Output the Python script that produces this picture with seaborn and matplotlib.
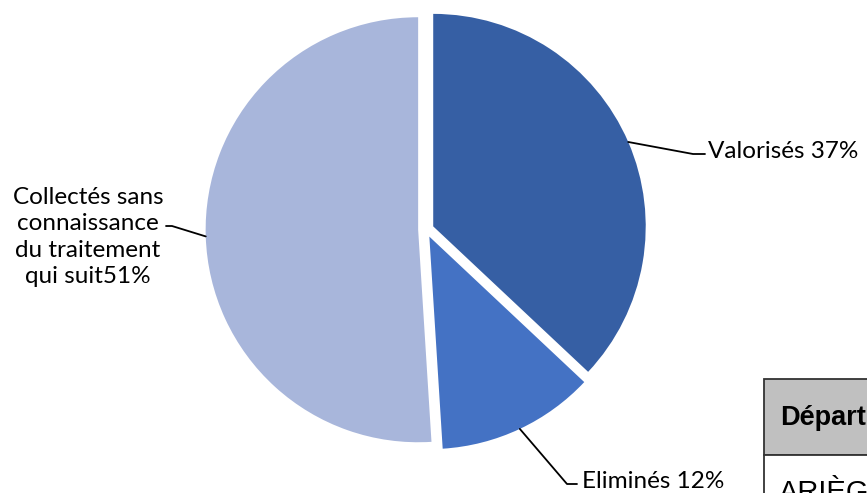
import matplotlib
matplotlib.use("Agg")
import matplotlib.pyplot as plt
import seaborn as sns
import numpy as np
from matplotlib.patches import Rectangle

sns.set_theme(style="white")
plt.rcParams['font.family'] = ['Lato', 'DejaVu Sans']

# ---- data ----
categories = ["Valorisés", "Eliminés", "Collectés sans\nconnaissance\ndu traitement\nqui suit"]
values = [37, 12, 51]
colors = ["#365FA4", "#4472C4", "#A8B6DB"]
table_header = "Départ"
table_row = "ARIÈG"

W, H = 867, 493
fig = plt.figure(figsize=(W / 100, H / 100), dpi=100)
ax = fig.add_axes([0, 0, 1, 1])

cx_px, cy_px, r_px = 426, 229.5, 212.5
explode_frac = 0.037

wedges, _ = ax.pie(values, colors=colors, startangle=90, counterclock=False,
                   explode=[explode_frac] * len(values),
                   wedgeprops=dict(linewidth=0))

ax.set_aspect('auto')
ax.set_xlim(-cx_px / r_px, (W - cx_px) / r_px)
ax.set_ylim(-(H - cy_px) / r_px, cy_px / r_px)
ax.axis('off')


def px(x, y):
    return (x - cx_px) / r_px, (cy_px - y) / r_px


def edge_point(w):
    mid = np.deg2rad((w.theta1 + w.theta2) / 2)
    c = w.center
    return c[0] + w.r * np.cos(mid), c[1] + w.r * np.sin(mid)


label_font = 17.5
# Valorisés
s = edge_point(wedges[0])
e1 = px(693, 154)
e2 = px(705, 154)
ax.plot([s[0], e1[0], e2[0]], [s[1], e1[1], e2[1]], color='black', lw=1.3)
t = px(708, 151)
ax.text(t[0], t[1], f"{categories[0]} {values[0]}%", ha='left', va='center',
        fontsize=label_font, color='black')

# Eliminés
s = edge_point(wedges[1])
e1 = px(567, 484)
e2 = px(577, 484)
ax.plot([s[0], e1[0], e2[0]], [s[1], e1[1], e2[1]], color='black', lw=1.3)
t = px(582, 481)
ax.text(t[0], t[1], f"{categories[1]} {values[1]}%", ha='left', va='center',
        fontsize=label_font, color='black')

# Collectés
s = edge_point(wedges[2])
e1 = px(172, 226)
e2 = px(166, 226)
ax.plot([s[0], e1[0], e2[0]], [s[1], e1[1], e2[1]], color='black', lw=1.3)
t = px(88, 237)
ax.text(t[0], t[1], f"{categories[2]}{values[2]}%", ha='center', va='center',
        fontsize=label_font, color='black', linespacing=1.3)

# ---- table fragment (bottom right) ----
def ff(x, y):
    return x / W, (H - y) / H

x0, y0 = ff(764, 379)
_, y1 = ff(764, 455)
fig.patches.append(Rectangle((x0, y1), 1 - x0 + 0.01, y0 - y1, transform=fig.transFigure,
                             facecolor='#C0C0C0', edgecolor='#333333', lw=1.3, zorder=5))
fig.patches.append(Rectangle((x0, -0.01), 1 - x0 + 0.01, y1 + 0.01, transform=fig.transFigure,
                             facecolor='white', edgecolor='#333333', lw=1.3, zorder=5))
tx, ty = ff(780, 418)
fig.text(tx, ty, table_header, ha='left', va='center', fontsize=19.5, fontweight='bold',
         family='Liberation Sans', color='black', zorder=6)
tx, _ = ff(779, 0)
fig.text(tx, 0.0, table_row, ha='left', va='center', fontsize=21,
         family='Liberation Sans', color='black', zorder=6)

fig.savefig("out.png", dpi=100)
